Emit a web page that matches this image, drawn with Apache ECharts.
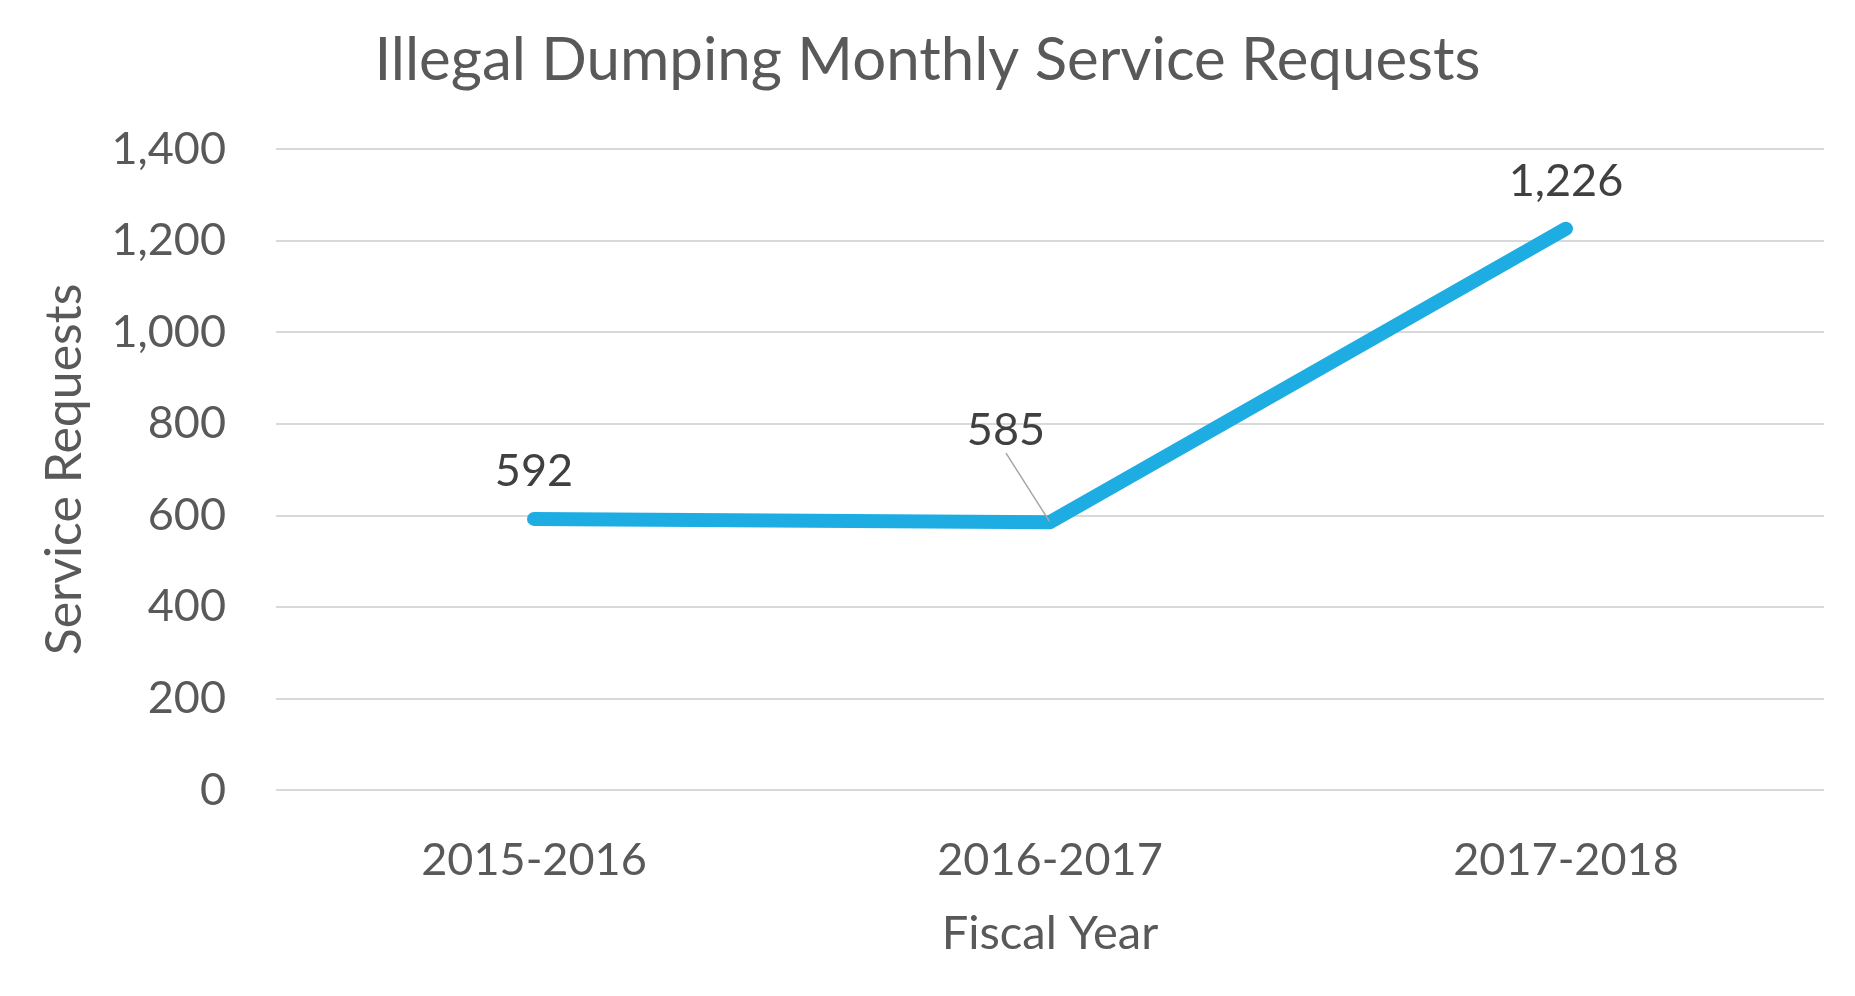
<!DOCTYPE html>
<html><head><meta charset="utf-8">
<script src="https://cdn.jsdelivr.net/npm/echarts@6/dist/echarts.min.js"></script>
<style>html,body{margin:0;padding:0;background:#fff}#c{width:1855px;height:996px}</style>
</head><body><div id="c"></div>
<script>
const categories = ['2015-2016', '2016-2017', '2017-2018'];
const serviceRequests = [592, 585, 1226];
const yTicks = [0, 200, 400, 600, 800, 1000, 1200, 1400];

const FONT = 'Lato';
const seriesData = serviceRequests.map((v, i) => i === 1
  ? { value: v, labelLine: { show: true, lineStyle: { color: '#a6a6a6', width: 1.5 } } }
  : { value: v });

const chart = echarts.init(document.getElementById('c'));
chart.setOption({
  animation: false,
  title: {
    text: 'Illegal Dumping Monthly Service Requests',
    left: 'center', top: 26,
    textStyle: { fontFamily: FONT, fontSize: 60, fontWeight: 'normal', color: '#595959' }
  },
  grid: { left: 276, right: 31, top: 149, bottom: 206 },
  xAxis: {
    type: 'category', data: categories, boundaryGap: true,
    axisLine: { show: false }, axisTick: { show: false },
    axisLabel: { fontFamily: FONT, fontSize: 45, color: '#595959', margin: 48 },
    name: 'Fiscal Year', nameLocation: 'middle', nameGap: 120,
    nameTextStyle: { fontFamily: FONT, fontSize: 47, color: '#595959' }
  },
  yAxis: {
    type: 'value', min: yTicks[0], max: yTicks[yTicks.length - 1], interval: 200,
    axisLine: { show: false }, axisTick: { show: false },
    splitLine: { lineStyle: { color: '#d9d9d9', width: 2 } },
    axisLabel: {
      fontFamily: FONT, fontSize: 45, color: '#595959', margin: 50,
      formatter: v => v.toLocaleString('en-US')
    },
    name: 'Service Requests', nameLocation: 'middle', nameGap: 186, nameRotate: 90,
    nameTextStyle: { fontFamily: FONT, fontSize: 50, color: '#595959' }
  },
  series: [{
    type: 'line', data: seriesData,
    symbol: 'circle', symbolSize: 2, showSymbol: true,
    itemStyle: { color: 'rgba(30,173,227,0)', borderWidth: 0 },
    lineStyle: { color: '#1EADE3', width: 14, cap: 'round', join: 'round' },
    label: {
      show: true, position: 'top', distance: 24,
      fontFamily: FONT, fontSize: 45, color: '#404040',
      formatter: p => p.value.toLocaleString('en-US')
    },
    labelLine: { show: false },
    labelLayout: function (params) {
      if (params.dataIndex === 1) return { dx: -44, dy: -44 };
      return {};
    }
  }]
});
</script></body></html>
